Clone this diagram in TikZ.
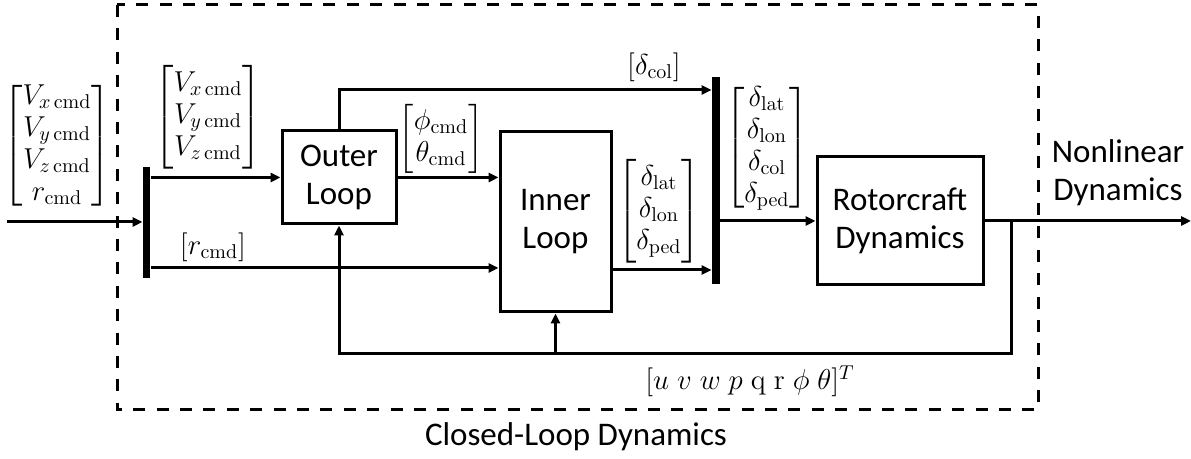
\documentclass[tikz,border=0pt]{standalone}
\usepackage{amsmath}
\usepackage[no-math]{fontspec}
\setmainfont{Carlito}
\usetikzlibrary{arrows.meta,calc}
\tikzset{
  blk/.style={draw, line width=1.5pt, align=center, inner sep=0pt, font=\fontsize{16.5}{19}\selectfont},
  barbox/.style={fill=black, draw=none, inner sep=0pt},
  conn/.style={line width=1.5pt, -{Triangle[length=5pt,width=4.5pt]}},
  vec/.style={inner sep=0pt, font=\fontsize{14}{16}\selectfont},
  lbl/.style={inner sep=0pt, align=center, font=\fontsize{16.5}{19}\selectfont},
  frame/.style={line width=1.5pt, dash pattern=on 6pt off 5.7pt}
}
\begin{document}
\begin{tikzpicture}[x=0.5pt,y=-0.5pt]
\useasboundingbox (0,0) rectangle (1191,459);
% dashed closed-loop frame
\draw[frame] (117,5) rectangle (1038,410);
% blocks
\node[blk, minimum width=57pt, minimum height=46.5pt] (outer) at (339,177.5) {Outer\\Loop};
\node[blk, minimum width=55.5pt, minimum height=90pt] (inner) at (555.5,222) {Inner\\Loop};
\node[blk, minimum width=83pt, minimum height=64pt] (rotor) at (900,221) {Rotorcraft\\Dynamics};
\node[barbox, minimum width=3.6pt, minimum height=55.5pt] (bar1) at (146.5,222.5) {};
\node[barbox, minimum width=4pt, minimum height=103.5pt] (bar2) at (716,180.5) {};
% helper coordinates
\coordinate (in) at (7,222);
\coordinate (rrow) at (500,268);
\coordinate (colrow) at (700,90);
\coordinate (irow) at (611,270);
\coordinate (out) at (1191,221);
\coordinate (fb) at (1011,221);
\coordinate (fbl) at (1011,354);
% connectors
\draw[conn] (in) -- (in -| bar1.west);
\draw[conn] (bar1.east |- outer.west) -- (outer.west);
\draw[conn] (bar1.east |- rrow) -- (inner.west |- rrow);
\draw[conn] (outer.east) -- (outer.east -| inner.west);
\draw[conn] (outer.north) |- (colrow -| bar2.west);
\draw[conn] (inner.east |- irow) -- (bar2.west |- irow);
\draw[conn] (bar2.east |- rotor.west) -- (rotor.west);
\draw[conn] (rotor.east) -- (out);
\draw[conn] (fb) -- (fbl) -| (outer.south);
\draw[conn] (inner.south |- fbl) -- (inner.south);
% labels
\node[vec] (v1) at (57,146) {$\begin{bmatrix}V_{x\,\mathrm{cmd}}\\ V_{y\,\mathrm{cmd}}\\ V_{z\,\mathrm{cmd}}\\ r_{\mathrm{cmd}}\end{bmatrix}$};
\node[vec] (v2) at (208,117) {$\begin{bmatrix}V_{x\,\mathrm{cmd}}\\ V_{y\,\mathrm{cmd}}\\ V_{z\,\mathrm{cmd}}\end{bmatrix}$};
\node[vec] (rc) at (213,247) {$[r_{\mathrm{cmd}}]$};
\node[vec] (pt) at (441,139) {$\begin{bmatrix}\phi_{\mathrm{cmd}}\\ \theta_{\mathrm{cmd}}\end{bmatrix}$};
\node[vec] (dc) at (654,67) {$[\delta_{\mathrm{col}}]$};
\node[vec] (d3) at (659,211) {$\begin{bmatrix}\delta_{\mathrm{lat}}\\ \delta_{\mathrm{lon}}\\ \delta_{\mathrm{ped}}\end{bmatrix}$};
\node[vec] (d4) at (767,148) {$\begin{bmatrix}\delta_{\mathrm{lat}}\\ \delta_{\mathrm{lon}}\\ \delta_{\mathrm{col}}\\ \delta_{\mathrm{ped}}\end{bmatrix}$};
\node[vec] (st) at (750,381) {$[u\;v\;w\;p\;\mathrm{q}\;\mathrm{r}\;\phi\;\theta]^T$};
\node[lbl] (nl) at (1118,173) {Nonlinear\\Dynamics};
\node[lbl] (cl) at (576,437) {Closed-Loop Dynamics};
\end{tikzpicture}
\end{document}
